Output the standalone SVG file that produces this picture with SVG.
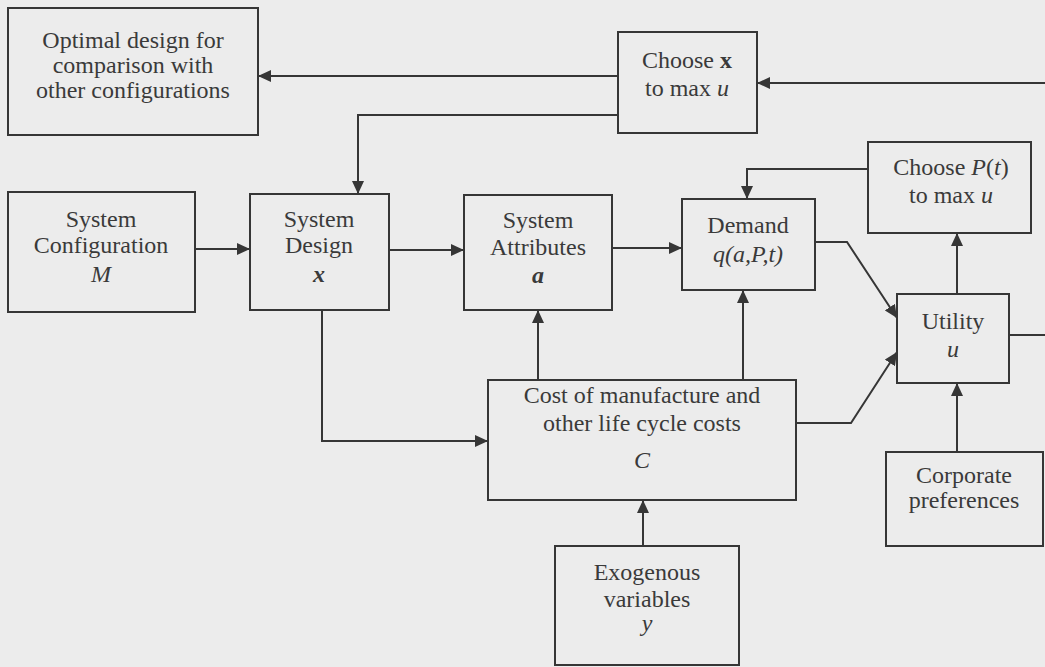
<svg xmlns="http://www.w3.org/2000/svg" width="1045" height="667" viewBox="0 0 1045 667">
  <style>
    .box { fill: none; stroke: #363636; stroke-width: 2; }
    .lbl { font-size: 24px; fill: #3a3a3a; text-anchor: middle; }
    .it { font-style: italic; }
    .bi { font-style: italic; font-weight: bold; }
    .b { font-weight: bold; }
    .wire { fill: none; stroke: #363636; stroke-width: 2; }
    .arr { marker-end: url(#head); }
  </style>
  <defs>
    <marker id="head" markerUnits="userSpaceOnUse" markerWidth="13" markerHeight="12" refX="13" refY="6" orient="auto">
      <path d="M0,0 L13,6 L0,12 z" fill="#363636"/>
    </marker>
  </defs>
  <rect x="0" y="0" width="1045" height="667" fill="#ececec"/>

  <g id="connectors">
    <path class="wire arr" d="M618,76 H258"/>
    <path class="wire arr" d="M618,115 H358 V194"/>
    <path class="wire arr" d="M1045,83 H757"/>
    <path class="wire" d="M1009,335 H1045"/>
    <path class="wire arr" d="M195,249 H250"/>
    <path class="wire arr" d="M389,250 H464"/>
    <path class="wire arr" d="M612,248 H682"/>
    <path class="wire arr" d="M868,169 H747 V199"/>
    <path class="wire arr" d="M815,242 H847 L897,318"/>
    <path class="wire arr" d="M796,423 H851 L897,352"/>
    <path class="wire arr" d="M957,294 V233"/>
    <path class="wire arr" d="M957,452 V383"/>
    <path class="wire arr" d="M322,310 V441 H488"/>
    <path class="wire arr" d="M538,380 V310"/>
    <path class="wire arr" d="M743,380 V290"/>
    <path class="wire arr" d="M643,546 V500"/>
  </g>

  <g font-family="'Liberation Serif', 'Times New Roman', 'DejaVu Serif', serif">
  <g id="optimal-design">
    <rect class="box" x="8" y="8" width="250" height="127"/>
    <text class="lbl" x="133" y="48">Optimal design for</text>
    <text class="lbl" x="133" y="73">comparison with</text>
    <text class="lbl" x="133" y="98">other configurations</text>
  </g>

  <g id="choose-x">
    <rect class="box" x="618" y="32" width="139" height="101"/>
    <text class="lbl" x="687" y="68">Choose <tspan class="b">x</tspan></text>
    <text class="lbl" x="687" y="96">to max <tspan class="it">u</tspan></text>
  </g>

  <g id="choose-p">
    <rect class="box" x="868" y="142" width="163" height="91"/>
    <text class="lbl" x="951" y="175">Choose <tspan class="it">P</tspan>(<tspan class="it">t</tspan>)</text>
    <text class="lbl" x="951" y="203">to max <tspan class="it">u</tspan></text>
  </g>

  <g id="system-configuration">
    <rect class="box" x="8" y="192" width="187" height="120"/>
    <text class="lbl" x="101" y="227">System</text>
    <text class="lbl" x="101" y="253">Configuration</text>
    <text class="lbl it" x="101" y="282">M</text>
  </g>

  <g id="system-design">
    <rect class="box" x="250" y="194" width="139" height="116"/>
    <text class="lbl" x="319" y="227">System</text>
    <text class="lbl" x="319" y="253">Design</text>
    <text class="lbl bi" x="319" y="282">x</text>
  </g>

  <g id="system-attributes">
    <rect class="box" x="464" y="195" width="148" height="115"/>
    <text class="lbl" x="538" y="228">System</text>
    <text class="lbl" x="538" y="255">Attributes</text>
    <text class="lbl bi" x="538" y="283">a</text>
  </g>

  <g id="demand">
    <rect class="box" x="682" y="199" width="133" height="91"/>
    <text class="lbl" x="748" y="233">Demand</text>
    <text class="lbl it" x="748" y="262">q(a,P,t)</text>
  </g>

  <g id="utility">
    <rect class="box" x="897" y="294" width="112" height="89"/>
    <text class="lbl" x="953" y="329">Utility</text>
    <text class="lbl it" x="953" y="357">u</text>
  </g>

  <g id="cost">
    <rect class="box" x="488" y="380" width="308" height="120"/>
    <text class="lbl" x="642" y="403">Cost of manufacture and</text>
    <text class="lbl" x="642" y="431">other life cycle costs</text>
    <text class="lbl it" x="642" y="468">C</text>
  </g>

  <g id="exogenous">
    <rect class="box" x="555" y="546" width="184" height="119"/>
    <text class="lbl" x="647" y="580">Exogenous</text>
    <text class="lbl" x="647" y="607">variables</text>
    <text class="lbl it" x="647" y="631">y</text>
  </g>

  <g id="corporate">
    <rect class="box" x="886" y="452" width="157" height="94"/>
    <text class="lbl" x="964" y="483">Corporate</text>
    <text class="lbl" x="964" y="508">preferences</text>
  </g>
  </g>
</svg>
